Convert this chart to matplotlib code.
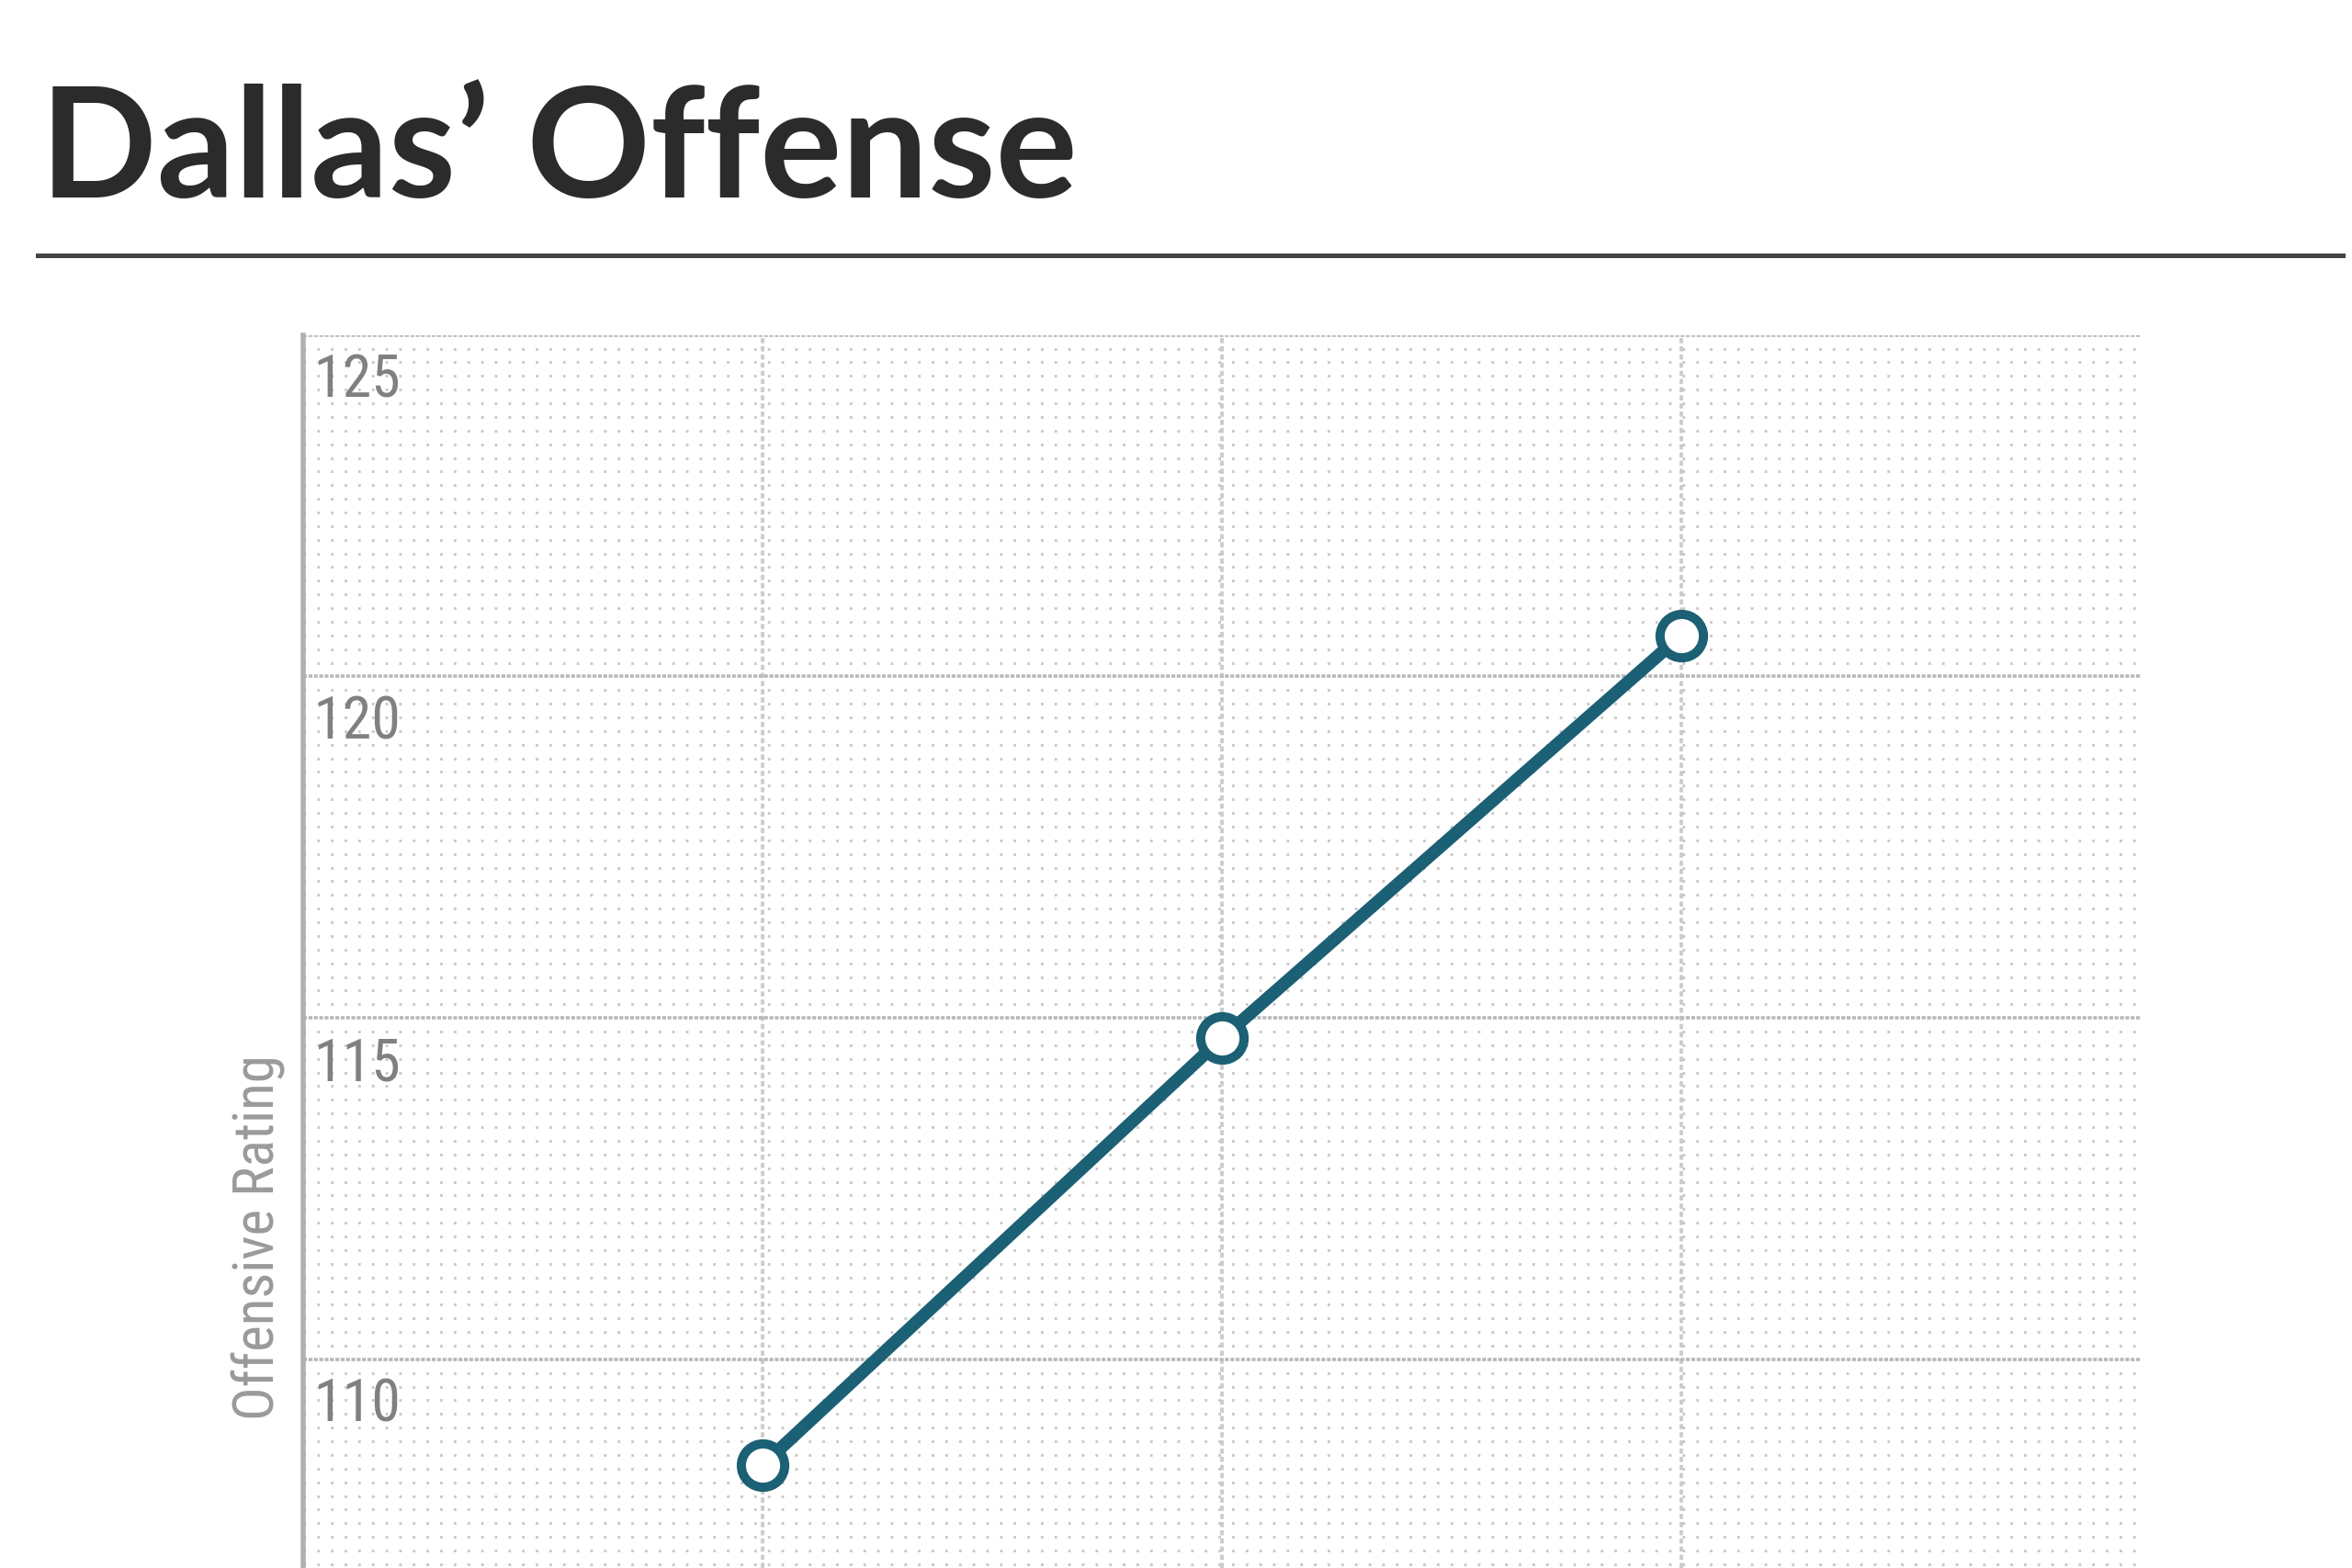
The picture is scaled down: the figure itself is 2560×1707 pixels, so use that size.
import matplotlib
matplotlib.use("Agg")
import matplotlib.pyplot as plt
from matplotlib.ticker import MultipleLocator, FixedLocator

# ---- data ----
x_positions = [1, 2, 3]
offensive_rating = [108.45, 114.7, 120.6]
y_ticks = [110, 115, 120, 125]
title_text = "Dallas\u2019 Offense"
y_label = "Offensive Rating"

plt.rcParams['lines.scale_dashes'] = False
DPI = 200
fig = plt.figure(figsize=(2560 / DPI, 1708 / DPI), dpi=DPI)
fig.patch.set_facecolor("white")

NARROW = ["Roboto Condensed", "Open Sans Condensed", "DejaVu Sans"]

# title and rule
fig.text(0.017, 0.874, title_text, fontsize=60, fontweight="bold",
         color="#2b2b2b", family=["Lato", "DejaVu Sans"], ha="left", va="baseline")
fig.add_artist(plt.Line2D([0.016, 0.996], [0.8366, 0.8366], color="#444444",
                          linewidth=1.8, transform=fig.transFigure))

ax = fig.add_axes([0.1288, 0.0, 0.9101 - 0.1288, 0.7859])
ax.set_xlim(0, 4)
ax.set_ylim(106.945, 125)

# grids
ax.yaxis.set_major_locator(FixedLocator(y_ticks))
ax.yaxis.set_minor_locator(MultipleLocator(0.2))
ax.xaxis.set_major_locator(FixedLocator(x_positions))
ax.grid(which="minor", axis="y", color="#c6c6c6", linewidth=1.0,
        linestyle=(0, (1.0, 4.35)))
ax.grid(which="major", axis="y", color="#b8b8b8", linewidth=1.3,
        linestyle=(0, (1.5, 0.6)))
ax.grid(which="major", axis="x", color="#cccccc", linewidth=1.4,
        linestyle=(0, (2.0, 1.2)))
ax.set_axisbelow(True)

for s in ["top", "right", "bottom"]:
    ax.spines[s].set_visible(False)
ax.spines["left"].set_color("#b0b0b0")
ax.spines["left"].set_linewidth(2.0)

ax.tick_params(axis="both", which="both", length=0)
ax.set_xticklabels([])
ax.set_yticklabels([])

# y tick labels inside plot, below gridlines
for v in y_ticks:
    ax.annotate(str(v), xy=(0, v), xycoords=("axes fraction", "data"),
                xytext=(4.5, -6.5), textcoords="offset points",
                ha="left", va="top", fontsize=23, color="#808080",
                family=NARROW, fontstretch="condensed")

fig.text(0.1098, 0.2114, y_label, rotation=90, ha="center", va="center",
         fontsize=22, color="#9a9a9a", family=NARROW, fontstretch="condensed")

ax.plot(x_positions, offensive_rating, color="#1b6074", linewidth=5.0,
        marker="o", markersize=17, markerfacecolor="white",
        markeredgecolor="#1b6074", markeredgewidth=3.6, zorder=5,
        clip_on=False)

fig.savefig("out.png", dpi=DPI, facecolor="white")
